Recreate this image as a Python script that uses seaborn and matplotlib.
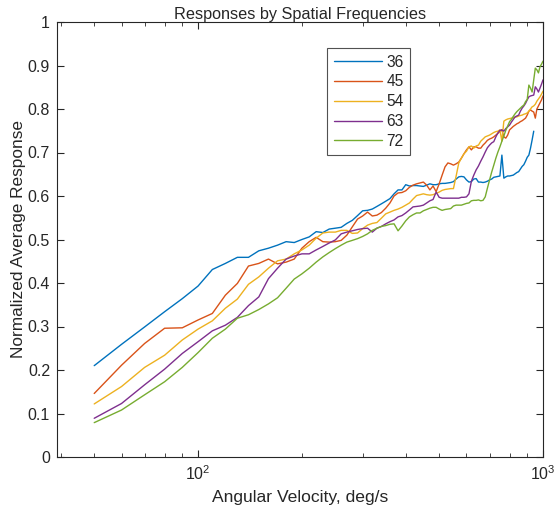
import numpy as np
import pandas as pd
import matplotlib
matplotlib.use('Agg')
import matplotlib.pyplot as plt
import matplotlib.ticker as mticker
import seaborn as sns

# angular velocity (deg/s), sampled every 10 deg/s
velocity = list(range(50, 1001, 10))

# normalized average response per spatial frequency
resp_36 = [0.210, 0.259, 0.299, 0.334, 0.364, 0.393, 0.431, 0.445, 0.459, 0.459,
           0.474, 0.480, 0.487, 0.495, 0.493, 0.500, 0.506, 0.518, 0.516, 0.524,
           0.526, 0.528, 0.537, 0.544, 0.555, 0.566, 0.567, 0.570, 0.576, 0.582,
           0.588, 0.594, 0.605, 0.614, 0.614, 0.626, 0.623, 0.624, 0.624, 0.623,
           0.622, 0.625, 0.628, 0.626, 0.626, 0.628, 0.629, 0.629, 0.630, 0.631,
           0.633, 0.639, 0.644, 0.645, 0.644, 0.637, 0.632, 0.633, 0.639, 0.640,
           0.632, 0.632, 0.631, 0.632, 0.634, 0.637, 0.639, 0.643, 0.644, 0.645,
           0.646, 0.694, 0.641, 0.644, 0.646, 0.646, 0.647, 0.648, 0.651, 0.654,
           0.656, 0.662, 0.668, 0.672, 0.680, 0.689, 0.694, 0.710, 0.729, 0.749]

resp_45 = [0.146, 0.211, 0.261, 0.296, 0.297, 0.315, 0.330, 0.372, 0.399, 0.439,
           0.445, 0.455, 0.444, 0.448, 0.455, 0.480, 0.495, 0.505, 0.495, 0.494,
           0.495, 0.498, 0.510, 0.529, 0.547, 0.554, 0.563, 0.554, 0.556, 0.562,
           0.572, 0.584, 0.600, 0.607, 0.608, 0.612, 0.620, 0.625, 0.628, 0.630,
           0.632, 0.625, 0.614, 0.623, 0.610, 0.628, 0.648, 0.667, 0.676, 0.674,
           0.671, 0.674, 0.678, 0.687, 0.697, 0.706, 0.713, 0.706, 0.713, 0.713,
           0.710, 0.710, 0.717, 0.722, 0.728, 0.731, 0.733, 0.736, 0.740, 0.744,
           0.748, 0.752, 0.736, 0.733, 0.740, 0.752, 0.756, 0.760, 0.763, 0.766,
           0.768, 0.771, 0.773, 0.776, 0.779, 0.786, 0.795, 0.798, 0.795, 0.793,
           0.779, 0.800, 0.807, 0.814, 0.821, 0.830]

resp_54 = [0.122, 0.162, 0.206, 0.234, 0.269, 0.294, 0.313, 0.342, 0.363, 0.397,
           0.414, 0.434, 0.451, 0.455, 0.467, 0.476, 0.487, 0.503, 0.515, 0.517,
           0.517, 0.521, 0.521, 0.514, 0.515, 0.525, 0.533, 0.537, 0.539, 0.549,
           0.559, 0.563, 0.567, 0.570, 0.574, 0.579, 0.584, 0.593, 0.601, 0.603,
           0.605, 0.603, 0.602, 0.603, 0.606, 0.609, 0.613, 0.615, 0.616, 0.617,
           0.617, 0.646, 0.676, 0.687, 0.697, 0.703, 0.713, 0.715, 0.710, 0.715,
           0.717, 0.726, 0.731, 0.736, 0.738, 0.740, 0.743, 0.746, 0.748, 0.749,
           0.752, 0.726, 0.772, 0.775, 0.777, 0.778, 0.779, 0.780, 0.781, 0.782,
           0.784, 0.785, 0.786, 0.788, 0.789, 0.791, 0.795, 0.800, 0.805, 0.807,
           0.811, 0.818, 0.823, 0.828, 0.834, 0.841]

resp_63 = [0.089, 0.123, 0.166, 0.202, 0.238, 0.265, 0.290, 0.303, 0.321, 0.348,
           0.368, 0.410, 0.434, 0.455, 0.462, 0.467, 0.467, 0.476, 0.484, 0.492,
           0.499, 0.513, 0.517, 0.520, 0.523, 0.525, 0.526, 0.517, 0.526, 0.530,
           0.536, 0.541, 0.545, 0.552, 0.555, 0.561, 0.568, 0.575, 0.576, 0.577,
           0.579, 0.584, 0.589, 0.592, 0.609, 0.597, 0.595, 0.595, 0.595, 0.595,
           0.595, 0.595, 0.595, 0.597, 0.597, 0.598, 0.605, 0.634, 0.648, 0.660,
           0.669, 0.680, 0.690, 0.701, 0.711, 0.717, 0.722, 0.725, 0.736, 0.745,
           0.751, 0.752, 0.749, 0.755, 0.759, 0.763, 0.770, 0.776, 0.782, 0.784,
           0.786, 0.795, 0.802, 0.807, 0.813, 0.821, 0.828, 0.830, 0.831, 0.832,
           0.851, 0.846, 0.839, 0.848, 0.857, 0.867]

resp_72 = [0.079, 0.108, 0.143, 0.173, 0.206, 0.240, 0.273, 0.294, 0.319, 0.327,
           0.339, 0.352, 0.366, 0.388, 0.409, 0.421, 0.434, 0.448, 0.460, 0.470,
           0.479, 0.487, 0.494, 0.498, 0.502, 0.507, 0.513, 0.521, 0.526, 0.530,
           0.532, 0.535, 0.536, 0.520, 0.531, 0.543, 0.552, 0.557, 0.561, 0.561,
           0.566, 0.569, 0.572, 0.574, 0.574, 0.570, 0.567, 0.569, 0.570, 0.571,
           0.577, 0.579, 0.579, 0.579, 0.581, 0.583, 0.584, 0.589, 0.590, 0.590,
           0.591, 0.589, 0.590, 0.598, 0.618, 0.637, 0.655, 0.671, 0.687, 0.701,
           0.713, 0.726, 0.738, 0.751, 0.761, 0.771, 0.776, 0.783, 0.789, 0.794,
           0.798, 0.802, 0.806, 0.809, 0.817, 0.822, 0.855, 0.848, 0.839, 0.867,
           0.894, 0.890, 0.883, 0.897, 0.903, 0.910]

frequencies = ['36', '45', '54', '63', '72']
colors = ['#0072BD', '#D95319', '#EDB120', '#7E2F8E', '#77AC30']
y_ticks = [0, 0.1, 0.2, 0.3, 0.4, 0.5, 0.6, 0.7, 0.8, 0.9, 1]

frames = []
for f, vals in zip(frequencies, [resp_36, resp_45, resp_54, resp_63, resp_72]):
    frames.append(pd.DataFrame({'velocity': velocity[:len(vals)],
                                'response': vals, 'freq': f}))
df = pd.concat(frames, ignore_index=True)

sns.set_style('ticks')
plt.rcParams['font.family'] = ['Liberation Sans', 'DejaVu Sans']
plt.rcParams['axes.edgecolor'] = '#262626'
plt.rcParams['axes.linewidth'] = 0.8

fig = plt.figure(figsize=(5.57, 5.12), dpi=100)
ax = fig.add_axes([57 / 557, 55 / 512, 486 / 557, 435 / 512])

sns.lineplot(data=df, x='velocity', y='response', hue='freq', palette=colors,
             estimator=None, sort=False, linewidth=1.0, ax=ax)

ax.set_xscale('log')
ax.set_xlim(39, 1000)
ax.set_ylim(0, 1)
ax.set_yticks(y_ticks)
ax.yaxis.set_major_formatter(mticker.FormatStrFormatter('%g'))

ax.tick_params(which='both', direction='in', top=True, right=True,
               colors='#262626', labelsize=11.5)
ax.tick_params(which='major', length=5, width=0.8, pad=5)
ax.tick_params(which='minor', length=3, width=0.6)
for s in ax.spines.values():
    s.set_visible(True)

ax.set_title('Responses by Spatial Frequencies', fontsize=11.7, pad=2.5)
ax.set_xlabel('Angular Velocity, deg/s', fontsize=12.6, labelpad=5)
ax.set_ylabel('Normalized Average Response', fontsize=12.4, labelpad=1.5)

handles, labels = ax.get_legend_handles_labels()
leg = ax.legend(handles, labels, loc='upper left', bbox_to_anchor=(0.5556, 0.9402),
                borderaxespad=0, frameon=True, fancybox=False, edgecolor='#262626',
                handlelength=3.1, handletextpad=0.3, labelspacing=0.31,
                borderpad=0.42, fontsize=11.2)
leg.get_frame().set_linewidth(0.8)

fig.savefig('out.png', dpi=100)
